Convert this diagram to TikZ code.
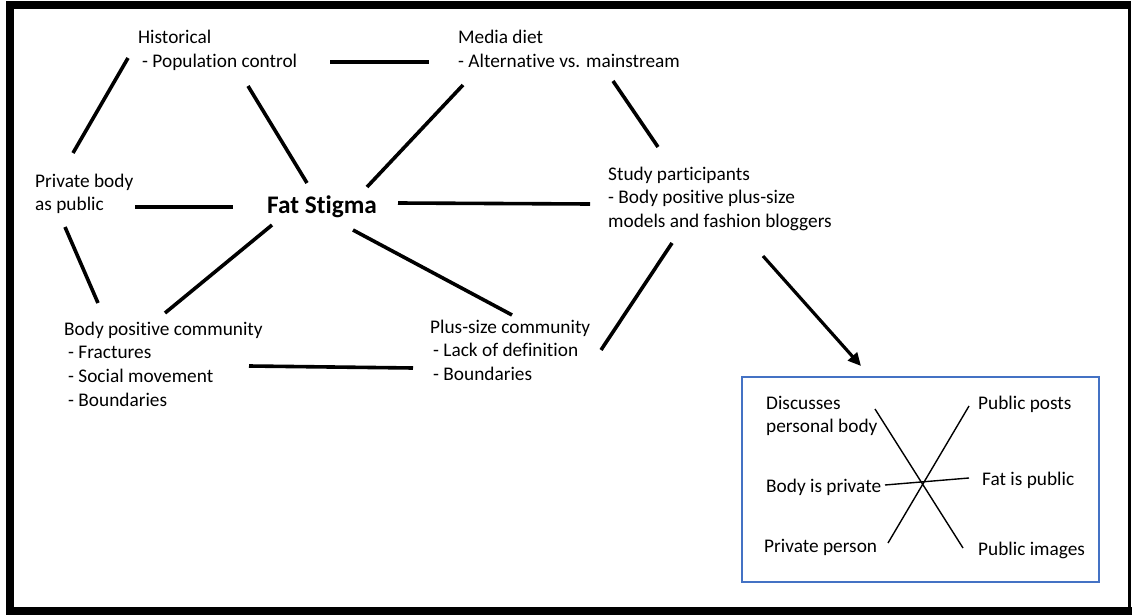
\documentclass[tikz,border=0pt]{standalone}
\usepackage{fontspec}
\setmainfont[Ligatures=NoCommon]{Carlito}
\usetikzlibrary{arrows.meta}
\definecolor{boxblue}{RGB}{68,114,196}
\begin{document}
\begin{tikzpicture}[x=1pt,y=-1pt,
  lbl/.style={anchor=base west,inner sep=0pt,align=left,font=\fontsize{19.3}{23.7}\selectfont},
  title/.style={anchor=base west,inner sep=0pt,font=\fontsize{25.3}{30}\selectfont\bfseries},
  conn/.style={line width=3.6pt},
  xconn/.style={line width=1.4pt},
  arrowconn/.style={line width=3.2pt,-{Triangle[length=13pt,width=12pt]}},
  framefill/.style={fill=black}
]
\useasboundingbox (0,0) rectangle (1132,615);
\fill[white] (0,0) rectangle (1132,615);
% outer frame
\fill[framefill] (6,1) rectangle (1131,9);
\fill[framefill] (6,1) rectangle (14,615);
\fill[framefill] (6,607) rectangle (1132,615);
\fill[framefill] (1128,1) rectangle (1131,615);

% main nodes (positions are the baseline of the last line)
\node[lbl] (hist) at (138,67.7) {Historical\\\hspace*{4pt}- Population control};
\node[lbl] (media) at (458,67.7) {Media diet\\- Alternative vs. mainstream};
\node[lbl] (study) at (608,227.4) {Study participants\\- Body positive plus-size\\models and fashion bloggers};
\node[lbl] (priv) at (35,210.7) {Private body\\as public};
\node[title] (fat) at (267,213) {Fat Stigma};
\node[lbl] (bodypos) at (64,406.1) {Body positive community\\\hspace*{4pt}- Fractures\\\hspace*{4pt}- Social movement\\\hspace*{4pt}- Boundaries};
\node[lbl] (plus) at (430,380.4) {Plus-size community\\\hspace*{3pt}- Lack of definition\\\hspace*{3pt}- Boundaries};

% connector end points
\coordinate (hist-priv) at (128,58);   \coordinate (priv-hist) at (73,153);
\coordinate (hist-fat) at (248,86);    \coordinate (fat-hist) at (307,183);
\coordinate (hist-media) at (330,62);  \coordinate (media-hist) at (429,62);
\coordinate (media-fat) at (463,85);   \coordinate (fat-media) at (367,187);
\coordinate (media-study) at (613,81); \coordinate (study-media) at (658,147);
\coordinate (priv-fat) at (135,207);   \coordinate (fat-priv) at (233,207);
\coordinate (fat-study) at (398,203);  \coordinate (study-fat) at (590,204);
\coordinate (priv-body) at (65,227);   \coordinate (body-priv) at (98,303);
\coordinate (fat-body) at (272,225);   \coordinate (body-fat) at (165,313);
\coordinate (fat-plus) at (353,230);   \coordinate (plus-fat) at (512,315);
\coordinate (body-plus) at (249,366);  \coordinate (plus-body) at (413,368);
\coordinate (study-plus) at (672,243); \coordinate (plus-study) at (601,350);
\coordinate (study-box) at (763,256);  \coordinate (box-study) at (861,366);

\draw[conn] (hist-priv) -- (priv-hist);
\draw[conn] (hist-fat) -- (fat-hist);
\draw[conn] (hist-media) -- (media-hist);
\draw[conn] (media-fat) -- (fat-media);
\draw[conn] (media-study) -- (study-media);
\draw[conn] (priv-fat) -- (fat-priv);
\draw[conn] (fat-study) -- (study-fat);
\draw[conn] (priv-body) -- (body-priv);
\draw[conn] (fat-body) -- (body-fat);
\draw[conn] (fat-plus) -- (plus-fat);
\draw[conn] (body-plus) -- (plus-body);
\draw[conn] (study-plus) -- (plus-study);
\draw[arrowconn] (study-box) -- (box-study);

% blue box
\draw[boxblue,line width=2pt] (742,377) rectangle (1099,582);
\node[lbl] (disc) at (766,432.7) {Discusses\\personal body};
\node[lbl] (pposts) at (978,409) {Public posts};
\node[lbl] (bpriv) at (766,492) {Body is private};
\node[lbl] (fpub) at (982,485) {Fat is public};
\node[lbl] (pperson) at (764,552) {Private person};
\node[lbl] (pimages) at (978,555) {Public images};

\coordinate (disc-end) at (875,409);    \coordinate (pimages-end) at (963,548);
\coordinate (pperson-end) at (888,543); \coordinate (pposts-end) at (969,406);
\coordinate (bpriv-end) at (885,485);   \coordinate (fpub-end) at (969,478);
\draw[xconn] (disc-end) -- (pimages-end);
\draw[xconn] (pperson-end) -- (pposts-end);
\draw[xconn] (bpriv-end) -- (fpub-end);
\end{tikzpicture}
\end{document}
